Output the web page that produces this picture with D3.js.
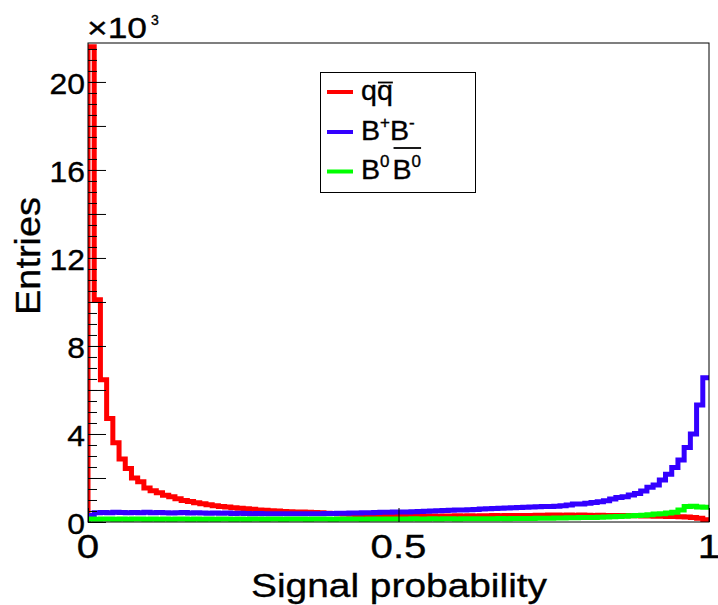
<!DOCTYPE html>
<html><head><meta charset="utf-8">
<script src="https://cdn.jsdelivr.net/npm/d3@7"></script>
<style>
html,body{margin:0;padding:0;background:#fff;}
text{font-family:"Liberation Sans",Arial,Helvetica,sans-serif;fill:#000;stroke:#000;stroke-width:0.35px;}
</style></head>
<body><svg id="c" width="718" height="605"></svg>
<script>
// ---- data ----
const nBins = 100;
const seriesNames = ["qqbar", "BpBm", "B0B0bar"];
const seriesColors = ["#ff0000", "#3300ff", "#00ff00"];
const qqbar = [21.6,10.1,6.47,4.7,3.6,2.86,2.43,2.0,1.83,1.55,
1.42,1.33,1.22,1.15,1.06,0.98,0.93,0.87,0.83,0.78,
0.74,0.71,0.68,0.65,0.63,0.60,0.58,0.55,0.53,0.51,
0.50,0.48,0.47,0.46,0.45,0.44,0.43,0.42,0.40,0.39,
0.37,0.36,0.35,0.34,0.33,0.32,0.31,0.30,0.29,0.29,
0.28,0.28,0.27,0.28,0.27,0.27,0.26,0.27,0.27,0.28,
0.27,0.28,0.27,0.28,0.28,0.29,0.28,0.29,0.29,0.30,
0.30,0.30,0.31,0.31,0.32,0.32,0.31,0.32,0.31,0.32,
0.31,0.30,0.31,0.30,0.30,0.29,0.29,0.28,0.28,0.27,
0.27,0.26,0.26,0.25,0.25,0.24,0.23,0.21,0.17,0.10];
const bpbm = [0.30,0.42,0.43,0.42,0.44,0.43,0.42,0.43,0.42,0.44,
0.42,0.43,0.42,0.41,0.42,0.43,0.41,0.42,0.41,0.40,
0.41,0.40,0.41,0.39,0.40,0.39,0.38,0.39,0.38,0.38,
0.37,0.38,0.37,0.37,0.38,0.37,0.38,0.38,0.39,0.39,
0.40,0.40,0.41,0.41,0.42,0.42,0.43,0.44,0.44,0.45,
0.46,0.46,0.47,0.48,0.49,0.50,0.51,0.52,0.53,0.54,
0.55,0.56,0.57,0.59,0.60,0.61,0.62,0.64,0.65,0.66,
0.67,0.68,0.69,0.70,0.71,0.72,0.74,0.77,0.82,0.82,
0.85,0.89,0.92,0.97,1.05,1.11,1.15,1.23,1.30,1.41,
1.58,1.68,1.91,2.17,2.48,2.82,3.39,4.00,5.32,6.56];
const b0b0bar = [0.14,0.13,0.14,0.14,0.13,0.14,0.13,0.14,0.14,0.13,
0.14,0.13,0.14,0.13,0.14,0.14,0.13,0.14,0.13,0.14,
0.13,0.14,0.14,0.13,0.14,0.13,0.14,0.14,0.13,0.14,
0.14,0.13,0.14,0.14,0.14,0.13,0.14,0.14,0.14,0.13,
0.14,0.14,0.14,0.14,0.13,0.14,0.14,0.14,0.14,0.14,
0.14,0.14,0.15,0.14,0.14,0.15,0.14,0.15,0.15,0.14,
0.15,0.15,0.15,0.15,0.15,0.15,0.16,0.15,0.16,0.16,
0.16,0.16,0.17,0.17,0.17,0.18,0.18,0.19,0.19,0.20,
0.20,0.21,0.22,0.23,0.24,0.25,0.26,0.28,0.30,0.31,
0.33,0.36,0.38,0.41,0.44,0.55,0.70,0.72,0.68,0.67];
const xTickValues = [0, 0.5, 1];
const xTickLabels = ["0", "0.5", "1"];
const yLabelValues = [0, 4, 8, 12, 16, 20];
const yMajorStep = 2, yMinorStep = 0.5;
const xTitle = "Signal probability";
const yTitle = "Entries";

// ---- layout ----
const L = 88, R = 709, T = 43, B = 522;
const svg = d3.select("#c");
const x = d3.scaleLinear().domain([0, 1]).range([L, R]);
const y = d3.scaleLinear().domain([0, 21.77]).range([B, T]);

svg.append("defs").append("clipPath").attr("id", "fr")
  .append("rect").attr("x", L).attr("y", T).attr("width", R - L).attr("height", B - T);

function histPts(vals) {
  const pts = [[0, 0]];
  vals.forEach((v, i) => { pts.push([i / nBins, v]); pts.push([(i + 1) / nBins, v]); });
  return pts;
}
const line = d3.line().x(d => x(d[0])).y(d => y(d[1]));
const data = [qqbar, bpbm, b0b0bar];
const gh = svg.append("g").attr("clip-path", "url(#fr)");
data.forEach((vals, k) => {
  gh.append("path").attr("d", line(histPts(vals)))
    .attr("fill", "none").attr("stroke", seriesColors[k]).attr("stroke-width", 5)
    .attr("stroke-linejoin", "miter").attr("stroke-linecap", "butt");
});

// axes ticks
const yMinor = d3.range(0, 21.77, yMinorStep);
const yMajor = d3.range(0, 21.77, yMajorStep);
svg.append("g").attr("transform", `translate(${L},0)`)
  .call(d3.axisRight(y).tickValues(yMinor).tickSize(9).tickFormat(""))
  .call(g => g.select(".domain").remove())
  .call(g => g.selectAll("line").attr("stroke", "#000"));
svg.append("g").attr("transform", `translate(${L},0)`)
  .call(d3.axisRight(y).tickValues(yMajor).tickSize(18).tickFormat(""))
  .call(g => g.select(".domain").remove())
  .call(g => g.selectAll("line").attr("stroke", "#000"));
svg.append("g").attr("transform", `translate(0,${B})`)
  .call(d3.axisTop(x).tickValues(xTickValues).tickSize(14).tickFormat(""))
  .call(g => g.select(".domain").remove())
  .call(g => g.selectAll("line").attr("stroke", "#000"));

// frame
svg.append("rect").attr("x", L).attr("y", T).attr("width", R - L).attr("height", B - T)
  .attr("fill", "none").attr("stroke", "#000").attr("stroke-width", 1);

function txt(str, px, py, size, sx, anchor) {
  return svg.append("text").attr("transform", `translate(${px},${py}) scale(${sx},1)`)
    .attr("font-size", size).attr("text-anchor", anchor || "start").text(str);
}
// y tick labels
yLabelValues.forEach(v => txt(String(v), 85, y(v) + 12, 29, 1.1, "end"));
// x tick labels
xTickValues.forEach((v, i) => txt(xTickLabels[i], x(v), 558, 33, 1.22, "middle"));
// titles
svg.append("text").attr("x", 399).attr("y", 597).attr("font-size", 34)
  .attr("text-anchor", "middle").attr("textLength", 296).attr("lengthAdjust", "spacingAndGlyphs").text(xTitle);
svg.append("text").attr("transform", "translate(40,256) rotate(-90)").attr("font-size", 35)
  .attr("text-anchor", "middle").attr("textLength", 118).attr("lengthAdjust", "spacingAndGlyphs").text(yTitle);
// x10^3
svg.append("text").attr("x", 87).attr("y", 38).attr("font-size", 30)
  .attr("textLength", 60).attr("lengthAdjust", "spacingAndGlyphs").text("\u00d710");
svg.append("text").attr("x", 151).attr("y", 25).attr("font-size", 14).text("3");

// legend
const lg = svg.append("g");
lg.append("rect").attr("x", 320.5).attr("y", 72.5).attr("width", 155).attr("height", 120)
  .attr("fill", "#fff").attr("stroke", "#000").attr("stroke-width", 1);
const legendLabels = [
  [{t: "q"}, {t: "q", over: true}],
  [{t: "B"}, {t: "+", sup: true}, {t: "B"}, {t: "-", sup: true}],
  [{t: "B"}, {t: "0", sup: true, gap: 3}, {t: "B", over: true}, {t: "0", sup: true, over: true}]
];
const rowBase = [99.5, 139.5, 179];
legendLabels.forEach((parts, r) => {
  lg.append("line").attr("x1", 327).attr("x2", 353).attr("y1", rowBase[r] - 7.5).attr("y2", rowBase[r] - 7.5)
    .attr("stroke", seriesColors[r]).attr("stroke-width", 4);
  let cx = 361;
  let ovStart = null, ovEnd = null;
  parts.forEach(p => {
    const fs = p.sup ? 16 : 27;
    const t = lg.append("text").attr("x", cx).attr("y", rowBase[r] - (p.sup ? 12 : 0))
      .attr("font-size", fs).text(p.t);
    const w = t.node().getComputedTextLength() * 1.06;
    t.attr("textLength", w).attr("lengthAdjust", "spacingAndGlyphs");
    if (p.over) {
      if (ovStart === null) ovStart = cx;
      ovEnd = cx + w;
    }
    cx += w + (p.gap || 0);
  });
  if (ovStart !== null) {
    const oy = r === 0 ? 82.5 : 148;
    lg.append("line").attr("x1", ovStart + 1).attr("x2", ovEnd).attr("y1", oy).attr("y2", oy)
      .attr("stroke", "#000").attr("stroke-width", 1.8);
  }
});
</script></body></html>
